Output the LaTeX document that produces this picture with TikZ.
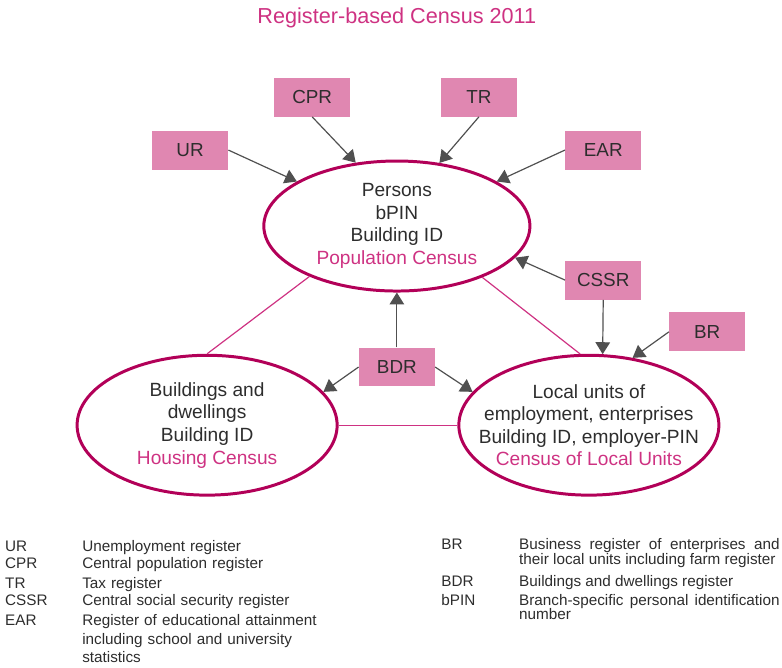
\documentclass[tikz,border=0pt]{standalone}
\usepackage{fontspec}
\setmainfont{Liberation Sans}
\usepackage{xcolor}
\usetikzlibrary{arrows.meta,shapes.geometric}
\definecolor{rmag}{RGB}{178,0,88}
\definecolor{rrose}{RGB}{206,50,130}
\definecolor{rpink}{RGB}{224,135,177}
\definecolor{rgray}{RGB}{80,80,80}
\definecolor{rtext}{RGB}{45,45,45}
\newcommand{\cens}[1]{\textcolor{rrose}{#1}}
\tikzset{
  reg/.style   ={rectangle, fill=rpink, minimum width=2.01cm, minimum height=1.03cm,
                 inner sep=0pt, text=rtext, font=\fontsize{14.2}{17}\selectfont},
  census/.style={ellipse, draw=rmag, line width=2.25pt, inner sep=0pt},
  ctext/.style ={align=center, inner sep=0pt, text=rtext,
                 font=\fontsize{14.4}{17}\selectfont},
  ar/.style    ={-{Triangle[length=9pt,width=11pt]}, draw=rgray, line width=0.9pt},
  link/.style  ={draw=rrose, line width=0.9pt},
  abbr/.style  ={anchor=base west, inner sep=0pt, text=rtext,
                 font=\fontsize{11.5}{14.2}\selectfont},
  key/.style   ={abbr, text width=250pt, align=left},
  keyj/.style  ={abbr, text width=196pt, align=justify,
                 font=\fontsize{11.5}{11}\selectfont}
}

\begin{document}
\begin{tikzpicture}
\useasboundingbox (0,0) rectangle (20.69,-17.67);
\node[anchor=base, text=rrose, font=\fontsize{16.3}{19}\selectfont] (title) at (10.50,-0.61)
  {Register-based Census 2011};

% the three censuses
\node[census, minimum width=7.04cm, minimum height=3.44cm] (pop) at (10.50,-5.98) {};
\node[census, minimum width=6.88cm, minimum height=3.70cm] (housing) at (5.48,-11.25) {};
\node[census, minimum width=6.88cm, minimum height=3.70cm] (local) at (15.58,-11.25) {};
\node[ctext] (poptxt) at (pop) {Persons\\bPIN\\Building ID\\\cens{Population Census}};
\node[ctext] (houstxt) at (housing) {Buildings and\\dwellings\\Building ID\\\cens{Housing Census}};
\node[ctext] (loctxt) at (local)
  {Local units of\\employment, enterprises\\Building ID, employer-PIN\\\cens{Census of Local Units}};

% registers
\node[reg] (cpr)  at (8.26,-2.57)  {CPR};
\node[reg] (tr)   at (12.67,-2.57) {TR};
\node[reg] (ur)   at (5.03,-3.97)  {UR};
\node[reg] (ear)  at (15.96,-3.97) {EAR};
\node[reg] (cssr) at (15.96,-7.41) {CSSR};
\node[reg] (br)   at (18.71,-8.78) {BR};
\node[reg] (bdr)  at (10.50,-9.71) {BDR};

\draw[link] (pop.210) -- (housing.north);
\draw[link] (pop.329) -- (local.97);
\draw[link] (housing.east) -- (local.west);

\draw[ar] (ur.east) -- (pop.156);
\draw[ar] (cpr.south) -- (pop.123);
\draw[ar] (tr.south) -- (pop.56);
\draw[ar] (ear.west) -- (pop.24);
\draw[ar] (cssr.west) -- (pop.345);
\draw[ar] (cssr.south) -- (local.79);
\draw[ar] (br.west) -- (local.57);
\draw[ar] (bdr.north) -- (pop.south);
\draw[ar] (bdr.west) -- (housing.16);
\draw[ar] (bdr.east) -- (local.164);

% abbreviations
\node[abbr] (kur)   at (0.13,-14.58) {UR};
\node[key]  (dur)   at (2.17,-14.58) {Unemployment register};
\node[abbr] (kcpr)  at (0.13,-15.05) {CPR};
\node[key]  (dcpr)  at (2.17,-15.05) {Central population register};
\node[abbr] (ktr)   at (0.13,-15.56) {TR};
\node[key]  (dtr)   at (2.17,-15.56) {Tax register};
\node[abbr] (kcssr) at (0.13,-16.03) {CSSR};
\node[key]  (dcssr) at (2.17,-16.03) {Central social security register};
\node[abbr] (kear)  at (0.13,-16.54) {EAR};
\node[key]  (dear)  at (2.17,-16.54)
  {Register of educational attainment\\including school and university\\statistics};

\node[abbr] (kbr)   at (11.67,-14.55) {BR};
\node[keyj] (dbr)   at (13.73,-14.55)
  {Business register of enterprises and\linebreak their local units including farm register};
\node[abbr] (kbdr)  at (11.67,-15.53) {BDR};
\node[keyj] (dbdr)  at (13.73,-15.53) {Buildings and dwellings register};
\node[abbr] (kpin)  at (11.67,-16.01) {bPIN};
\node[keyj] (dpin)  at (13.73,-16.01)
  {Branch-specific personal identification\linebreak number};
\end{tikzpicture}
\end{document}
